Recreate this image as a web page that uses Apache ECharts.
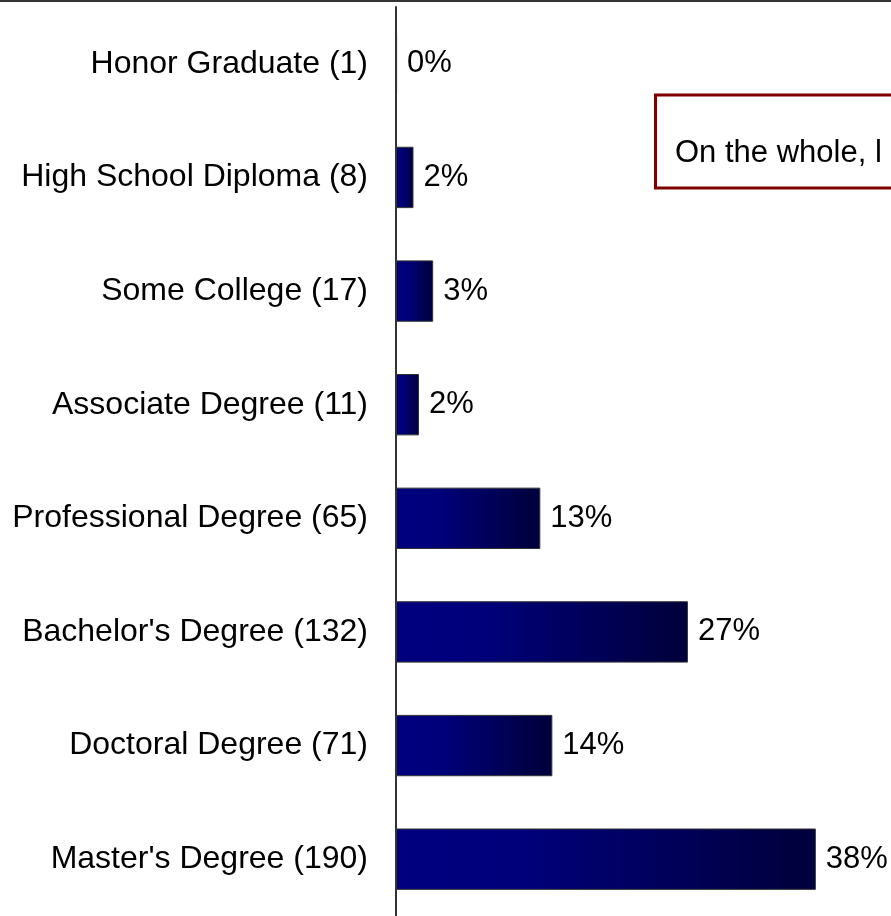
<!DOCTYPE html>
<html>
<head>
<meta charset="utf-8">
<script src="https://cdn.jsdelivr.net/npm/echarts@6/dist/echarts.min.js"></script>
<style>
  html, body { margin: 0; padding: 0; background: #fff; }
  #chart { width: 891px; height: 916px; }
</style>
</head>
<body>
<div id="chart"></div>
<script>
// categories top to bottom
const categories = [
  "Honor Graduate (1)",
  "High School Diploma (8)",
  "Some College (17)",
  "Associate Degree (11)",
  "Professional Degree (65)",
  "Bachelor's Degree (132)",
  "Doctoral Degree (71)",
  "Master's Degree (190)"
];
// share of respondents, percent
const shares = [0.1, 1.6, 3.4, 2.1, 13.2, 26.7, 14.3, 38.4];
const noteText = "On the whole, l";

const FONT = "Arial, 'Liberation Sans', sans-serif";

const chart = echarts.init(document.getElementById("chart"));

const option = {
  animation: false,
  textStyle: { fontFamily: FONT },
  grid: { left: 396, right: 3, top: 7, bottom: 0, containLabel: false },
  xAxis: {
    type: "value",
    min: 0,
    max: 45,
    show: false
  },
  yAxis: {
    type: "category",
    inverse: true,
    data: categories,
    z: 5,
    axisTick: { show: false },
    axisLine: { lineStyle: { color: "#333", width: 2 } },
    axisLabel: { color: "#000", fontSize: 32, margin: 28 }
  },
  series: [
    {
      type: "bar",
      data: shares,
      barCategoryGap: "46%",
      itemStyle: {
        borderColor: "#333",
        borderWidth: 1,
        color: {
          type: "linear",
          x: 0, y: 0, x2: 1, y2: 0,
          colorStops: [
            { offset: 0, color: "#000080" },
            { offset: 0.3, color: "#00007a" },
            { offset: 1, color: "#00003a" }
          ]
        }
      },
      label: {
        show: true,
        position: "right",
        distance: 10,
        color: "#000",
        fontSize: 31,
        formatter: (p) => Math.round(p.value) + "%"
      }
    }
  ],
  graphic: [
    {
      type: "line",
      shape: { x1: 0, y1: 1, x2: 891, y2: 1 },
      style: { stroke: "#333", lineWidth: 2 }
    },
    {
      type: "rect",
      shape: { x: 655.5, y: 95, width: 260, height: 93 },
      style: { fill: "#fff", stroke: "#800000", lineWidth: 3 }
    },
    {
      type: "text",
      x: 675,
      y: 153,
      style: {
        text: noteText,
        fill: "#000",
        font: "31px " + FONT,
        verticalAlign: "middle"
      }
    }
  ]
};

chart.setOption(option);
</script>
</body>
</html>
